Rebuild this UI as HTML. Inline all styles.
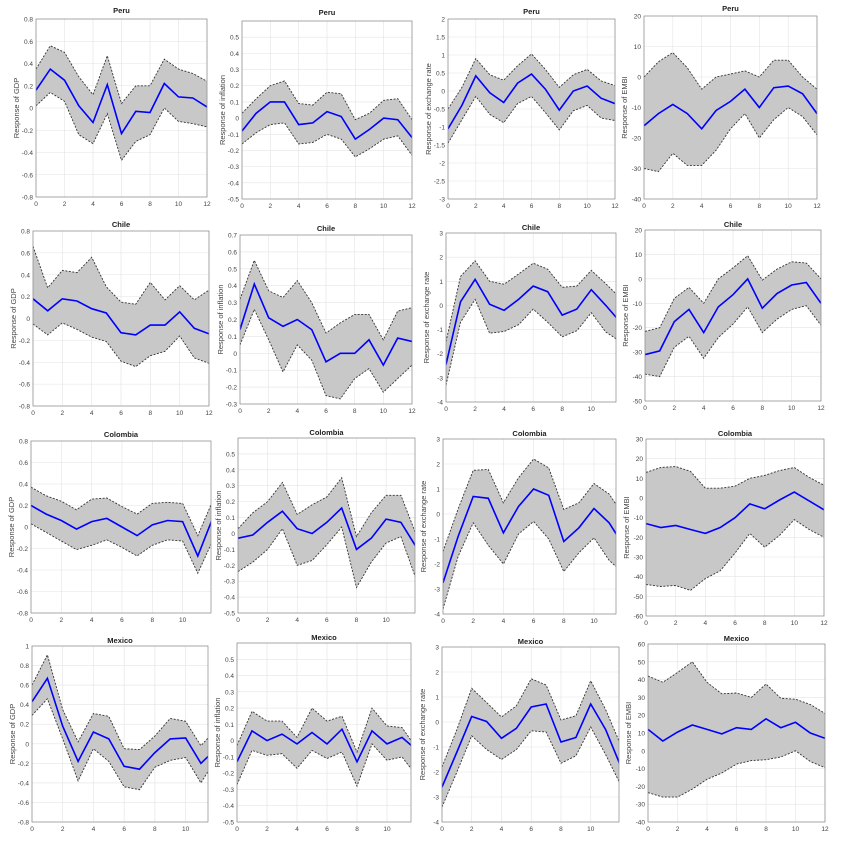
<!DOCTYPE html>
<html><head><meta charset="utf-8">
<style>
html,body{margin:0;padding:0;background:#fff;}
svg{display:block;font-family:"Liberation Sans",sans-serif;}
</style></head>
<body>
<svg id="chart" width="842" height="844" viewBox="0 0 842 844" xmlns="http://www.w3.org/2000/svg"></svg>
<script>
// ---- data: one array per series, horizons 0..12 ----
const horizons = [0,1,2,3,4,5,6,7,8,9,10,11,12];
const countries = ["Peru","Chile","Colombia","Mexico"];
const variables = ["GDP","inflation","exchange rate","EMBI"];

const peruGdpMean  = [0.16,0.35,0.25,0.02,-0.13,0.21,-0.23,-0.03,-0.04,0.22,0.10,0.09,0.01];
const peruGdpUpper = [0.35,0.56,0.50,0.28,0.12,0.47,0.04,0.20,0.20,0.44,0.35,0.31,0.24];
const peruGdpLower = [0.02,0.14,0.06,-0.24,-0.32,-0.05,-0.47,-0.30,-0.24,0.00,-0.12,-0.14,-0.17];
const peruInfMean  = [-0.08,0.03,0.10,0.10,-0.04,-0.03,0.04,0.01,-0.13,-0.07,0.00,-0.01,-0.12];
const peruInfUpper = [0.03,0.12,0.20,0.23,0.09,0.08,0.16,0.15,-0.01,0.03,0.11,0.12,-0.01];
const peruInfLower = [-0.16,-0.09,-0.04,-0.03,-0.16,-0.15,-0.10,-0.13,-0.24,-0.19,-0.13,-0.11,-0.23];
const peruFxMean   = [-1.05,-0.4,0.42,-0.05,-0.32,0.22,0.47,0.05,-0.53,0.0,0.14,-0.2,-0.35];
const peruFxUpper  = [-0.5,0.1,0.9,0.45,0.3,0.7,1.03,0.6,0.1,0.45,0.6,0.28,0.15];
const peruFxLower  = [-1.45,-0.8,-0.15,-0.65,-0.88,-0.35,-0.15,-0.6,-1.08,-0.55,-0.4,-0.75,-0.82];
const peruEmbiMean = [-16,-12,-9,-12,-17,-11,-8,-4,-10,-3.5,-3,-5.5,-12];
const peruEmbiUpper= [0,5,8,3,-4,0,1,2,0,5.5,5.5,0,-4];
const peruEmbiLower= [-30,-31,-25,-29,-29,-24,-17,-12,-20,-14,-10,-13,-19];

const chileGdpMean  = [0.18,0.07,0.18,0.16,0.09,0.05,-0.13,-0.15,-0.06,-0.06,0.06,-0.09,-0.14];
const chileGdpUpper = [0.66,0.28,0.44,0.42,0.56,0.29,0.15,0.13,0.33,0.17,0.30,0.17,0.26];
const chileGdpLower = [-0.05,-0.15,-0.04,-0.10,-0.17,-0.21,-0.39,-0.44,-0.34,-0.30,-0.16,-0.36,-0.41];
const chileInfMean  = [0.14,0.41,0.21,0.16,0.20,0.14,-0.05,0.0,0.0,0.08,-0.07,0.09,0.07];
const chileInfUpper = [0.32,0.55,0.37,0.33,0.43,0.30,0.12,0.18,0.23,0.23,0.08,0.25,0.27];
const chileInfLower = [0.05,0.26,0.08,-0.11,0.05,-0.04,-0.25,-0.27,-0.15,-0.09,-0.23,-0.15,-0.07];
const chileFxMean   = [-2.45,0.15,1.08,0.05,-0.2,0.25,0.8,0.57,-0.4,-0.15,0.65,0.0,-0.7];
const chileFxUpper  = [-1.5,1.2,1.85,1.0,0.88,1.3,1.75,1.5,0.75,0.8,1.45,0.9,0.3];
const chileFxLower  = [-3.3,-0.7,0.25,-1.15,-1.08,-0.8,-0.15,-0.7,-1.3,-1.05,-0.3,-1.1,-1.5];
const chileEmbiMean = [-31,-29.5,-17.5,-12.5,-22,-11.5,-6.5,0,-12,-6,-2.5,-1.5,-10];
const chileEmbiUpper= [-21.5,-20,-8,-3.5,-10,0,4.5,9.5,-0.5,4,7,6.5,0];
const chileEmbiLower= [-39,-40,-28,-23.5,-32.5,-24,-18.5,-11.5,-22,-16.5,-12.5,-11,-19];

const colGdpMean  = [0.2,0.12,0.06,-0.02,0.05,0.08,0.0,-0.08,0.02,0.06,0.05,-0.27,0.09];
const colGdpUpper = [0.37,0.29,0.24,0.16,0.26,0.27,0.19,0.12,0.22,0.23,0.22,-0.08,0.25];
const colGdpLower = [0.03,-0.05,-0.13,-0.21,-0.17,-0.12,-0.19,-0.27,-0.17,-0.12,-0.13,-0.43,-0.12];
const colInfMean  = [-0.03,-0.01,0.07,0.14,0.03,0.0,0.07,0.16,-0.1,-0.03,0.09,0.07,-0.08];
const colInfUpper = [0.03,0.13,0.2,0.32,0.12,0.18,0.23,0.35,-0.02,0.13,0.24,0.24,0.0];
const colInfLower = [-0.24,-0.18,-0.1,0.03,-0.2,-0.17,-0.07,0.04,-0.34,-0.18,-0.06,-0.02,-0.28];
const colFxMean   = [-2.75,-0.9,0.7,0.63,-0.75,0.3,1.0,0.75,-1.1,-0.55,0.22,-0.35,-1.3];
const colFxUpper  = [-1.5,0.2,1.75,1.78,0.45,1.45,2.2,1.85,0.18,0.45,1.22,0.8,-0.1];
const colFxLower  = [-3.8,-1.7,-0.35,-1.25,-2.0,-0.8,-0.3,-1.0,-2.3,-1.55,-0.95,-1.85,-2.4];
const colEmbiMean = [-13,-15,-14,-16,-18,-15,-10,-3,-5.5,-1,3,-1.5,-6];
const colEmbiUpper= [13,15.5,16,13.5,5,5,6,10,11.5,14,15.5,10.5,6.5];
const colEmbiLower= [-44,-45,-44.5,-47,-41,-37,-28,-18,-25,-19,-11,-16,-20];

const mexGdpMean  = [0.43,0.67,0.18,-0.18,0.12,0.05,-0.23,-0.26,-0.09,0.05,0.06,-0.2,-0.05];
const mexGdpUpper = [0.6,0.91,0.35,0.02,0.31,0.28,-0.05,-0.06,0.08,0.26,0.23,-0.02,0.15];
const mexGdpLower = [0.29,0.46,0.05,-0.38,-0.05,-0.18,-0.44,-0.47,-0.24,-0.17,-0.14,-0.4,-0.15];
const mexInfMean  = [-0.13,0.06,0.0,0.04,-0.02,0.05,-0.02,0.07,-0.13,0.06,-0.02,0.02,-0.06];
const mexInfUpper = [-0.03,0.18,0.12,0.12,0.02,0.2,0.12,0.15,-0.07,0.2,0.09,0.08,-0.05];
const mexInfLower = [-0.27,-0.06,-0.09,-0.08,-0.17,-0.06,-0.11,-0.07,-0.28,-0.02,-0.12,-0.1,-0.22];
const mexFxMean   = [-2.6,-1.2,0.22,0.02,-0.65,-0.25,0.6,0.72,-0.8,-0.62,0.72,-0.3,-1.75];
const mexFxUpper  = [-1.8,-0.3,1.35,0.78,0.2,0.65,1.73,1.48,0.08,0.25,1.65,0.5,-0.9];
const mexFxLower  = [-3.4,-2.0,-0.55,-1.1,-1.5,-1.1,-0.35,-0.4,-1.65,-1.35,-0.2,-1.3,-2.5];
const mexEmbiMean = [12,5.5,10.5,14.5,12,9.5,13,12,18,13,16,10,7];
const mexEmbiUpper= [42,38.5,44,50,38.5,32,32.5,30,37.5,29.5,29,26,21];
const mexEmbiLower= [-23.5,-26,-26,-21.5,-16,-12.5,-7.5,-5.5,-5,-3.5,0,-6,-9.5];

// ---- panel layout (geometry, axis limits) ----
const panels = [
 {c:0,v:0,L:36,R:207,T:19,B:197,xmax:12,ymin:-0.8,ymax:0.8,lmax:0.8,step:0.2,ty:13,m:peruGdpMean,u:peruGdpUpper,l:peruGdpLower},
 {c:0,v:1,L:242,R:412,T:21,B:199,xmax:12,ymin:-0.5,ymax:0.6,lmax:0.5,step:0.1,ty:15,m:peruInfMean,u:peruInfUpper,l:peruInfLower},
 {c:0,v:2,L:448,R:615,T:19,B:199,xmax:12,ymin:-3,ymax:2,lmax:2,step:0.5,ty:14,m:peruFxMean,u:peruFxUpper,l:peruFxLower},
 {c:0,v:3,L:644,R:817,T:16,B:199,xmax:12,ymin:-40,ymax:20,lmax:20,step:10,ty:11,m:peruEmbiMean,u:peruEmbiUpper,l:peruEmbiLower},
 {c:1,v:0,L:33,R:209,T:231,B:406,xmax:12,ymin:-0.8,ymax:0.8,lmax:0.8,step:0.2,ty:227,m:chileGdpMean,u:chileGdpUpper,l:chileGdpLower},
 {c:1,v:1,L:240,R:412,T:235,B:404,xmax:12,ymin:-0.3,ymax:0.7,lmax:0.7,step:0.1,ty:231,m:chileInfMean,u:chileInfUpper,l:chileInfLower},
 {c:1,v:2,L:446,R:616,T:233,B:402,xmax:11.7,ymin:-4,ymax:3,lmax:3,step:1,ty:230,m:chileFxMean,u:chileFxUpper,l:chileFxLower},
 {c:1,v:3,L:645,R:821,T:230,B:401,xmax:12,ymin:-50,ymax:20,lmax:20,step:10,ty:227,m:chileEmbiMean,u:chileEmbiUpper,l:chileEmbiLower},
 {c:2,v:0,L:31,R:211,T:441,B:613,xmax:11.87,ymin:-0.8,ymax:0.8,lmax:0.8,step:0.2,ty:437,m:colGdpMean,u:colGdpUpper,l:colGdpLower},
 {c:2,v:1,L:238,R:415,T:438,B:613,xmax:11.95,ymin:-0.5,ymax:0.6,lmax:0.5,step:0.1,ty:435,m:colInfMean,u:colInfUpper,l:colInfLower},
 {c:2,v:2,L:443,R:616,T:439,B:614,xmax:11.46,ymin:-4,ymax:3,lmax:3,step:1,ty:436,m:colFxMean,u:colFxUpper,l:colFxLower},
 {c:2,v:3,L:646,R:824,T:439,B:616,xmax:12,ymin:-60,ymax:30,lmax:30,step:10,ty:436,m:colEmbiMean,u:colEmbiUpper,l:colEmbiLower},
 {c:3,v:0,L:32,R:208,T:646,B:822,xmax:11.46,ymin:-0.8,ymax:1,lmax:1,step:0.2,ty:643,m:mexGdpMean,u:mexGdpUpper,l:mexGdpLower},
 {c:3,v:1,L:237,R:411,T:643,B:822,xmax:11.6,ymin:-0.5,ymax:0.6,lmax:0.5,step:0.1,ty:640,m:mexInfMean,u:mexInfUpper,l:mexInfLower},
 {c:3,v:2,L:442,R:619,T:647,B:822,xmax:11.9,ymin:-4,ymax:3,lmax:3,step:1,ty:644,m:mexFxMean,u:mexFxUpper,l:mexFxLower},
 {c:3,v:3,L:648,R:825,T:644,B:822,xmax:12,ymin:-40,ymax:60,lmax:60,step:10,ty:641,m:mexEmbiMean,u:mexEmbiUpper,l:mexEmbiLower}
];

const NS="http://www.w3.org/2000/svg";
const svg=document.getElementById('chart');
function mk(tag,attrs,parent){const e=document.createElementNS(NS,tag);for(const k in attrs)e.setAttribute(k,attrs[k]);(parent||svg).appendChild(e);return e;}
function fmt(v){let s=(Math.round(v*1000)/1000).toString();if(Math.abs(v)<1e-9)s="0";return s;}
const defs=mk('defs',{});

panels.forEach((p,i)=>{
  const key=countries[p.c].toLowerCase()+'-'+variables[p.v].replace(' ','-');
  const g=mk('g',{});
  
  
  const xs=x=>p.L+(x/p.xmax)*(p.R-p.L);
  const ys=y=>p.B-(y-p.ymin)/(p.ymax-p.ymin)*(p.B-p.T);
  const cp=mk('clipPath',{id:'clip'+i},defs);
  mk('rect',{x:p.L,y:p.T,width:p.R-p.L,height:p.B-p.T},cp);
  const grid=mk('g',{stroke:'#e3e3e3','stroke-width':0.6},g);
  
  
  const nT=Math.round((p.ymax-p.ymin)/p.step);
  for(let k=0;k<=nT;k++){const v=p.ymin+k*p.step;const y=ys(v);
    mk('line',{x1:p.L,x2:p.R,y1:y,y2:y},grid);
    if(v>p.lmax+1e-9) continue;
    const t=mk('text',{x:p.L-3,y:y+2.5,'text-anchor':'end','font-size':6.5,fill:'#444'},g);
    t.textContent=fmt(v);
    
    
  }
  for(let x=0;x<=p.xmax+1e-6;x+=2){const xx=xs(x);
    mk('line',{x1:xx,x2:xx,y1:p.T,y2:p.B},grid);
    const t=mk('text',{x:xx,y:p.B+9,'text-anchor':'middle','font-size':6.5,fill:'#444'},g);
    t.textContent=x;
    
    
  }
  const inner=mk('g',{'clip-path':'url(#clip'+i+')'},g);
  let d='';
  horizons.forEach((h,j)=>{d+=(j?'L':'M')+xs(h).toFixed(1)+','+ys(p.u[j]).toFixed(1);});
  for(let j=horizons.length-1;j>=0;j--)d+='L'+xs(horizons[j]).toFixed(1)+','+ys(p.l[j]).toFixed(1);
  const band=mk('path',{d:d+'Z',fill:'#c8c8c8',stroke:'none'},inner);
  
  
  [['u','upper-bound'],['l','lower-bound']].forEach(([k,nm])=>{
    const pl=mk('polyline',{points:horizons.map((h,j)=>xs(h).toFixed(1)+','+ys(p[k][j]).toFixed(1)).join(' '),fill:'none',stroke:'#333','stroke-width':0.9,'stroke-dasharray':'2,1.5'},inner);
    
    
  });
  const ml=mk('polyline',{points:horizons.map((h,j)=>xs(h).toFixed(1)+','+ys(p.m[j]).toFixed(1)).join(' '),fill:'none',stroke:'#0000ff','stroke-width':1.6},inner);
  
  
  const box=mk('rect',{x:p.L,y:p.T,width:p.R-p.L,height:p.B-p.T,fill:'none',stroke:'#888','stroke-width':0.7},g);
  
  
  const tt=mk('text',{x:(p.L+p.R)/2,y:p.ty,'text-anchor':'middle','font-size':7.5,'font-weight':'bold',fill:'#222'},g);
  tt.textContent=countries[p.c];
  
  
  const yc=(p.T+p.B)/2, xl=p.L-17;
  const yl=mk('text',{x:xl,y:yc,'text-anchor':'middle','font-size':7.5,fill:'#444',transform:'rotate(-90 '+xl+' '+yc+')'},g);
  yl.textContent='Response of '+variables[p.v];
  
  
});
</script>
</body></html>
